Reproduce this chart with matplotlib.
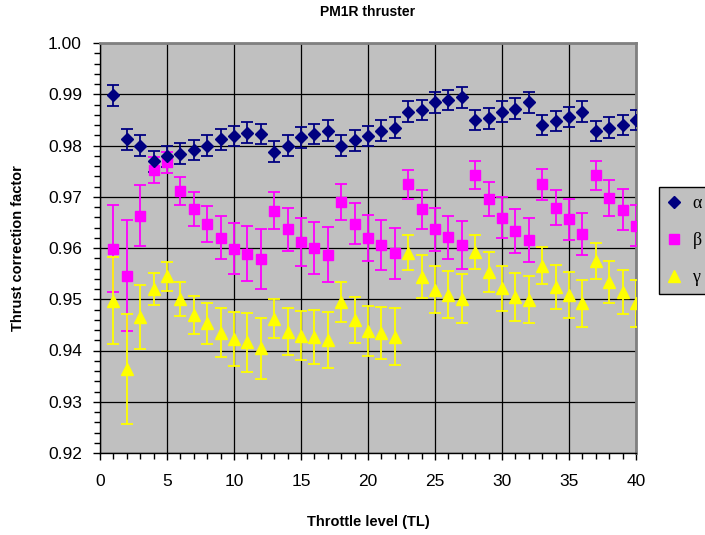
import matplotlib
matplotlib.use("Agg")
import matplotlib.pyplot as plt
from matplotlib.ticker import MultipleLocator, FormatStrFormatter
from matplotlib.lines import Line2D

tl = list(range(1, 41))

alpha = [0.9898, 0.9812, 0.9800, 0.9769, 0.9779, 0.9784, 0.9791, 0.9800, 0.9812, 0.9819,
         0.9825, 0.9822, 0.9788, 0.9800, 0.9816, 0.9822, 0.9829, 0.9800, 0.9810, 0.9819,
         0.9829, 0.9835, 0.9866, 0.9869, 0.9884, 0.9889, 0.9894, 0.9850, 0.9853, 0.9866,
         0.9872, 0.9884, 0.9840, 0.9848, 0.9856, 0.9866, 0.9828, 0.9835, 0.9840, 0.9850]
alpha_err = [0.0020] * 40

beta = [0.9599, 0.9546, 0.9663, 0.9752, 0.9767, 0.9711, 0.9676, 0.9647, 0.9620, 0.9599,
        0.9589, 0.9579, 0.9673, 0.9637, 0.9611, 0.9600, 0.9587, 0.9690, 0.9647, 0.9619,
        0.9606, 0.9590, 0.9724, 0.9676, 0.9637, 0.9621, 0.9606, 0.9742, 0.9696, 0.9659,
        0.9634, 0.9615, 0.9724, 0.9679, 0.9656, 0.9628, 0.9742, 0.9698, 0.9675, 0.9643]
beta_err = [0.0084, 0.0108, 0.0060, 0.0025, 0.0020, 0.0028, 0.0033, 0.0035, 0.0042, 0.0050,
            0.0054, 0.0059, 0.0036, 0.0042, 0.0047, 0.0050, 0.0054, 0.0035, 0.0040, 0.0045,
            0.0049, 0.0050, 0.0028, 0.0038, 0.0042, 0.0042, 0.0046, 0.0027, 0.0033, 0.0040,
            0.0043, 0.0043, 0.0030, 0.0035, 0.0040, 0.0041, 0.0028, 0.0035, 0.0040, 0.0040]

gamma = [0.9497, 0.9364, 0.9465, 0.9520, 0.9545, 0.9500, 0.9469, 0.9453, 0.9435, 0.9422,
         0.9416, 0.9404, 0.9462, 0.9437, 0.9429, 0.9427, 0.9420, 0.9494, 0.9460, 0.9438,
         0.9434, 0.9427, 0.9591, 0.9544, 0.9519, 0.9509, 0.9501, 0.9593, 0.9553, 0.9521,
         0.9505, 0.9499, 0.9565, 0.9524, 0.9509, 0.9492, 0.9575, 0.9534, 0.9514, 0.9492]
gamma_err = [0.0085, 0.0107, 0.0062, 0.0031, 0.0028, 0.0033, 0.0037, 0.0040, 0.0047, 0.0053,
             0.0057, 0.0060, 0.0038, 0.0045, 0.0048, 0.0053, 0.0055, 0.0039, 0.0045, 0.0048,
             0.0051, 0.0055, 0.0034, 0.0042, 0.0045, 0.0046, 0.0048, 0.0033, 0.0039, 0.0044,
             0.0047, 0.0046, 0.0036, 0.0043, 0.0045, 0.0046, 0.0035, 0.0041, 0.0043, 0.0046]

labels = ["\u03b1", "\u03b2", "\u03b3"]
title = "PM1R thruster"
xlabel = "Throttle level (TL)"
ylabel = "Thrust correction factor"

plt.rcParams['font.family'] = ['Liberation Sans', 'DejaVu Sans']

fig = plt.figure(figsize=(7.05, 5.35), dpi=100)
ax = fig.add_axes([100/705, 1-453/535, 536/705, 410/535])
ax.set_facecolor('#C0C0C0')

ebkw = dict(linestyle='none', capsize=4.5, elinewidth=1.3, capthick=1.3, zorder=3)
ax.errorbar(tl, beta, yerr=beta_err, marker='s', markersize=7, color='#FF00FF',
            ecolor='#FF00FF', **ebkw)
ax.errorbar(tl, gamma, yerr=gamma_err, marker='^', markersize=8, color='#FFFF00',
            ecolor='#FFFF00', **ebkw)
ax.errorbar(tl, alpha, yerr=alpha_err, marker='D', markersize=6.5, color='#000080',
            ecolor='#000080', **ebkw)

ax.set_xlim(0, 40)
ax.set_ylim(0.92, 1.00)
ax.xaxis.set_major_locator(MultipleLocator(5))
ax.xaxis.set_minor_locator(MultipleLocator(1))
ax.yaxis.set_major_locator(MultipleLocator(0.01))
ax.yaxis.set_minor_locator(MultipleLocator(0.002))
ax.yaxis.set_major_formatter(FormatStrFormatter('%.2f'))
ax.grid(True, which='major', color='black', linewidth=0.9, zorder=1)
ax.set_axisbelow(True)
ax.tick_params(which='major', direction='out', length=5, width=1, labelsize=12.5, color='black')
ax.tick_params(which='minor', direction='out', length=4, width=1, color='black')
ax.tick_params(axis='x', pad=10)
ax.tick_params(axis='y', pad=8)

for s in ['left', 'bottom']:
    ax.spines[s].set_color('black')
    ax.spines[s].set_linewidth(1)
for s in ['top', 'right']:
    ax.spines[s].set_color('#808080')
    ax.spines[s].set_linewidth(2)

fig.text(368/705, 1-12/535, title, fontsize=10, fontweight='bold', ha='center', va='center')
ax.set_xlabel(xlabel, fontsize=10.5, fontweight='bold')
ax.set_ylabel(ylabel, fontsize=10.5, fontweight='bold')
ax.xaxis.set_label_coords(0.5, -(522-453)/410, transform=ax.transAxes)
ax.xaxis.label.set_va('center')
ax.yaxis.set_label_coords(-(100-18)/536, 0.5, transform=ax.transAxes)
ax.yaxis.label.set_va('center')

handles = [
    Line2D([], [], linestyle='none', marker='D', markersize=6.5, color='#000080'),
    Line2D([], [], linestyle='none', marker='s', markersize=7, color='#FF00FF'),
    Line2D([], [], linestyle='none', marker='^', markersize=8, color='#FFFF00'),
]
leg = ax.legend(handles, labels, loc='upper left', bbox_to_anchor=(659/705, 1-187/535),
                bbox_transform=fig.transFigure, frameon=True, fancybox=False,
                facecolor='#C0C0C0', edgecolor='black', framealpha=1,
                prop={'family': ['Liberation Serif', 'DejaVu Serif'], 'size': 13},
                handlelength=0.8, handletextpad=0.6, labelspacing=1.1, borderpad=0.45,
                borderaxespad=0)
leg.get_frame().set_linewidth(1)

fig.savefig('out.png', dpi=100)
